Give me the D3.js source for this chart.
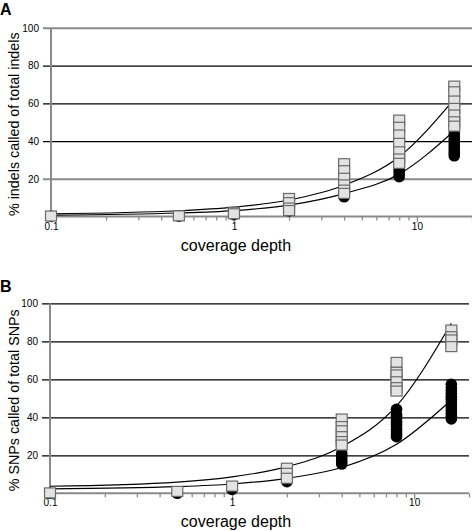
<!DOCTYPE html>
<html>
<head>
<meta charset="utf-8">
<script src="https://cdn.jsdelivr.net/npm/d3@7/dist/d3.min.js"></script>
<style>
  html, body { margin: 0; padding: 0; background: #fff; }
  svg { display: block; }
  text { font-family: "Liberation Sans", Arial, Helvetica, sans-serif; }
</style>
</head>
<body>
<svg id="chart" width="472" height="531"></svg>
<script>
// ---------------- data ----------------
const depths = [0.1, 0.5, 1, 2, 4, 8, 16];
const yTicks = [20, 40, 60, 80, 100];
const xMajorTicks = [0.1, 1, 10];
const xMinorTicks = [0.2, 0.3, 0.4, 0.5, 0.6, 0.7, 0.8, 0.9, 2, 3, 4, 5, 6, 7, 8, 9, 20];

// Panel A: indels
const indelSquares = [
  [0.3],
  [0.4],
  [2.3, 1.5],
  [9.6, 7.4, 4.5, 3.2],
  [28, 24.3, 20.3, 16.8, 14, 12.3],
  [51.1, 47.3, 43.2, 38.8, 34.3, 30.5, 28.2],
  [69.1, 66.1, 61.2, 57.3, 53.8, 50.2, 47.9]
];
const indelCircles = [
  [0.2],
  [0.2],
  [1],
  [3],
  [10.5, 11.5],
  [21.1, 22.5, 24, 25.5, 27],
  [32.2, 33.5, 35, 36.5, 38, 39.5, 41, 42.5, 44]
];
const indelFitUpper = [1.5, 3.1, 5.0, 8.8, 16.6, 31.7, 62.2];
const indelFitLower = [0.8, 1.9, 3.2, 6.1, 12.2, 22.5, 45.5];

// Panel B: SNPs
const snpSquares = [
  [0.2],
  [1.0],
  [3.8],
  [13.2, 10.5, 7.9],
  [39.1, 35.1, 32.9, 29.8, 27.2, 25.4],
  [68.9, 63.7, 62.3, 58.7, 55.6, 53.8],
  [85.9, 82.4, 80.7, 77.2]
];
const snpCircles = [
  [0],
  [0],
  [2],
  [6.1],
  [15.4, 16.8, 18.2, 19.6, 21],
  [29.8, 31, 32.3, 33.6, 35, 36.4, 37.8, 39.2, 40.5, 41.5, 44.2],
  [39.1, 40.5, 42, 43.5, 45, 46.5, 48, 49.5, 51, 52.5, 54, 55.5, 57.4]
];
const snpFitUpper = [3.7, 5.9, 8.6, 14, 24.5, 46, 89.5];
const snpFitLower = [2.3, 3.5, 4.9, 7.9, 13.6, 25.8, 49.1];

// ---------------- layout ----------------
const panels = [
  {
    letter: "A", letterY: 15,
    yTitle: "% indels called of total indels",
    left: 51, right: 472, y0: 216.6, y100: 27.8,
    greyGrid: [20, 100],
    squares: indelSquares, circles: indelCircles,
    fits: [indelFitUpper, indelFitLower]
  },
  {
    letter: "B", letterY: 292,
    yTitle: "% SNPs called of total SNPs",
    left: 50, right: 469, y0: 493.3, y100: 303.3,
    greyGrid: [],
    squares: snpSquares, circles: snpCircles,
    fits: [snpFitUpper, snpFitLower]
  }
];

const svg = d3.select("#chart");
const GREY = "#8a8a8a";
const SQ_W = 11, SQ_H = 10, CIRC_R = 5.8;

panels.forEach(p => {
  const g = svg.append("g");
  const x = d3.scaleLog().domain([0.1, 20]).range([p.left, p.right]);
  const y = d3.scaleLinear().domain([0, 100]).range([p.y0, p.y100]);

  // gridlines + y labels via axis
  const gridLeft = p.left - 8;
  const yAxis = d3.axisLeft(y)
    .tickValues(yTicks)
    .tickSize(-(p.right - gridLeft))
    .tickPadding(4)
    .tickFormat(d3.format("d"));
  const ya = g.append("g")
    .attr("transform", `translate(${gridLeft},0)`)
    .call(yAxis);
  ya.select(".domain").remove();
  ya.selectAll(".tick line")
    .attr("stroke", d => p.greyGrid.includes(d) ? GREY : "#000")
    .attr("stroke-width", d => p.greyGrid.includes(d) ? 2 : 1.2);
  ya.selectAll(".tick text")
    .attr("font-size", 10)
    .attr("fill", "#000")
    .style("font-family", "'Liberation Sans', Arial, sans-serif");

  // x axis ticks
  const allX = xMajorTicks.concat(xMinorTicks).sort((a, b) => a - b);
  const xAxis = d3.axisBottom(x)
    .tickValues(allX)
    .tickSize(4)
    .tickPadding(3)
    .tickFormat(d => xMajorTicks.includes(d) ? String(d) : "");
  const xa = g.append("g")
    .attr("transform", `translate(0,${p.y0})`)
    .call(xAxis);
  xa.select(".domain").remove();
  xa.selectAll(".tick line")
    .attr("stroke", GREY)
    .attr("stroke-width", 1.3)
    .attr("y2", d => xMajorTicks.includes(d) ? 6 : 4);
  xa.selectAll(".tick text")
    .attr("font-size", 10)
    .attr("fill", "#000")
    .attr("dy", "0.6em")
    .style("font-family", "'Liberation Sans', Arial, sans-serif");

  // axis lines
  g.append("line")
    .attr("x1", p.left).attr("x2", p.right)
    .attr("y1", p.y0).attr("y2", p.y0)
    .attr("stroke", GREY).attr("stroke-width", 2);
  g.append("line")
    .attr("x1", p.left).attr("x2", p.left)
    .attr("y1", y(100)).attr("y2", p.y0 + 4)
    .attr("stroke", GREY).attr("stroke-width", 2);

  // fit curves
  const line = d3.line()
    .x((d, i) => x(depths[i]))
    .y(d => y(d))
    .curve(d3.curveMonotoneX);
  p.fits.forEach(f => {
    g.append("path")
      .attr("d", line(f))
      .attr("fill", "none")
      .attr("stroke", "#000")
      .attr("stroke-width", 1.2);
  });

  // circles (drawn below squares)
  const circData = [];
  p.circles.forEach((arr, i) => arr.forEach(v => circData.push({ x: depths[i], v })));
  g.append("g").selectAll("circle")
    .data(circData)
    .join("circle")
    .attr("cx", d => x(d.x))
    .attr("cy", d => y(d.v))
    .attr("r", CIRC_R)
    .attr("fill", "#000");

  // squares: highest first, so lower ones overlap
  const sqData = [];
  p.squares.forEach((arr, i) => {
    arr.slice().sort((a, b) => b - a).forEach(v => sqData.push({ x: depths[i], v }));
  });
  g.append("g").selectAll("rect")
    .data(sqData)
    .join("rect")
    .attr("x", d => x(d.x) - SQ_W / 2)
    .attr("y", d => y(d.v) - SQ_H / 2)
    .attr("width", SQ_W)
    .attr("height", SQ_H)
    .attr("fill", "#e3e3e3")
    .attr("stroke", "#6a6a6a")
    .attr("stroke-width", 1.2);

  // titles
  g.append("text")
    .attr("x", 236).attr("y", p.y0 + 34)
    .attr("text-anchor", "middle")
    .attr("font-size", 16)
    .text("coverage depth");

  const midY = (y(100) + p.y0) / 2 + 2;
  g.append("text")
    .attr("transform", `translate(19,${midY}) rotate(-90)`)
    .attr("text-anchor", "middle")
    .attr("font-size", 14.3)
    .text(p.yTitle);

  g.append("text")
    .attr("x", 0).attr("y", p.letterY)
    .attr("font-size", 16)
    .attr("font-weight", "bold")
    .text(p.letter);
});
</script>
</body>
</html>
